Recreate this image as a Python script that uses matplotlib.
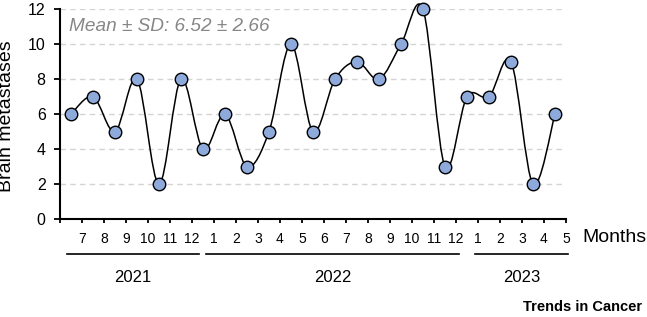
import matplotlib
matplotlib.use("Agg")
import matplotlib.pyplot as plt
import numpy as np
from matplotlib.path import Path
from matplotlib.patches import PathPatch

plt.rcParams['font.family'] = ['Liberation Sans', 'DejaVu Sans']

# ---- data ----
values = [6, 7, 5, 8, 2, 8, 4, 6, 3, 5, 10, 5, 8, 9, 8, 10, 12, 3, 7, 7, 9, 2, 6]
month_labels = ['7', '8', '9', '10', '11', '12',
                '1', '2', '3', '4', '5', '6', '7', '8', '9', '10', '11', '12',
                '1', '2', '3', '4', '5']
years = ['2021', '2022', '2023']
year_counts = [6, 12, 5]
mean_sd_text = 'Mean ± SD: 6.52 ± 2.66'

# ---- figure ----
W, H = 647, 317
fig = plt.figure(figsize=(W / 100, H / 100), dpi=100)
ax = fig.add_axes([60 / W, 1 - 219 / H, (566 - 60) / W, (219 - 9.3) / H])

n = len(values)
xs = np.arange(n) + 0.5
ys = np.array(values, dtype=float)

# Smoothed line (cubic Bezier, Excel-like smoothing)
verts = [(xs[0], ys[0])]
codes = [Path.MOVETO]
for i in range(n - 1):
    p0 = np.array([xs[max(i - 1, 0)], ys[max(i - 1, 0)]])
    p1 = np.array([xs[i], ys[i]])
    p2 = np.array([xs[i + 1], ys[i + 1]])
    p3 = np.array([xs[min(i + 2, n - 1)], ys[min(i + 2, n - 1)]])
    c1 = p1 + (p2 - p0) / 6.0
    c2 = p2 - (p3 - p1) / 6.0
    verts += [tuple(c1), tuple(c2), tuple(p2)]
    codes += [Path.CURVE4, Path.CURVE4, Path.CURVE4]
patch = PathPatch(Path(verts, codes), facecolor='none', edgecolor='black',
                  linewidth=1.1, zorder=2, clip_on=False)
ax.add_patch(patch)

ax.plot(xs, ys, linestyle='none', marker='o', markersize=9,
        markerfacecolor='#8eaadb', markeredgecolor='black',
        markeredgewidth=1.0, zorder=3, clip_on=False)

ax.set_xlim(0, n)
ax.set_ylim(0, 12)
ax.set_yticks(np.arange(0, 13, 2))
ax.set_xticks(np.arange(0, n + 1))
ax.set_xticklabels([''] + month_labels)

for yv in np.arange(2, 13, 2):
    ax.axhline(yv, color='#d4d4d4', linewidth=1.0, linestyle=(0, (4, 3)), zorder=1)

for s in ['top', 'right']:
    ax.spines[s].set_visible(False)
for s in ['left', 'bottom']:
    ax.spines[s].set_linewidth(1.5)

ax.tick_params(axis='y', direction='out', length=4.3, width=1.3, pad=6, labelsize=11.5)
ax.tick_params(axis='x', direction='out', length=3, width=1.3, pad=6.5, labelsize=10)

ax.set_ylabel('Brain metastases', fontsize=14)
ax.yaxis.set_label_coords(-0.088, 0.49)

ax.text(1.032, -0.09, 'Months', transform=ax.transAxes, fontsize=14,
        ha='left', va='center')

ax.text(0.018, 0.916, mean_sd_text, transform=ax.transAxes, fontsize=13.7,
        style='italic', color='#878787', ha='left', va='center')

# Year brackets
trans = ax.get_xaxis_transform()
bracket_pads = [(0.68, 0.32), (0.36, 0.14), (0.14, 0.09)]
start = 1
for yr, cnt, (pl, pr) in zip(years, year_counts, bracket_pads):
    first = start
    last = start + cnt - 1
    x0, x1 = first - pl, last + pr
    ax.plot([x0, x1], [-0.167, -0.167], color='black', linewidth=1.2,
            transform=trans, clip_on=False)
    ax.text((x0 + x1) / 2, -0.277, yr, transform=trans, fontsize=12,
            ha='center', va='center')
    start += cnt

fig.text(642 / W, 1 - 307 / H, 'Trends in Cancer', fontsize=10.5,
         fontweight='bold', ha='right', va='center')

fig.savefig('out.png', dpi=100)
